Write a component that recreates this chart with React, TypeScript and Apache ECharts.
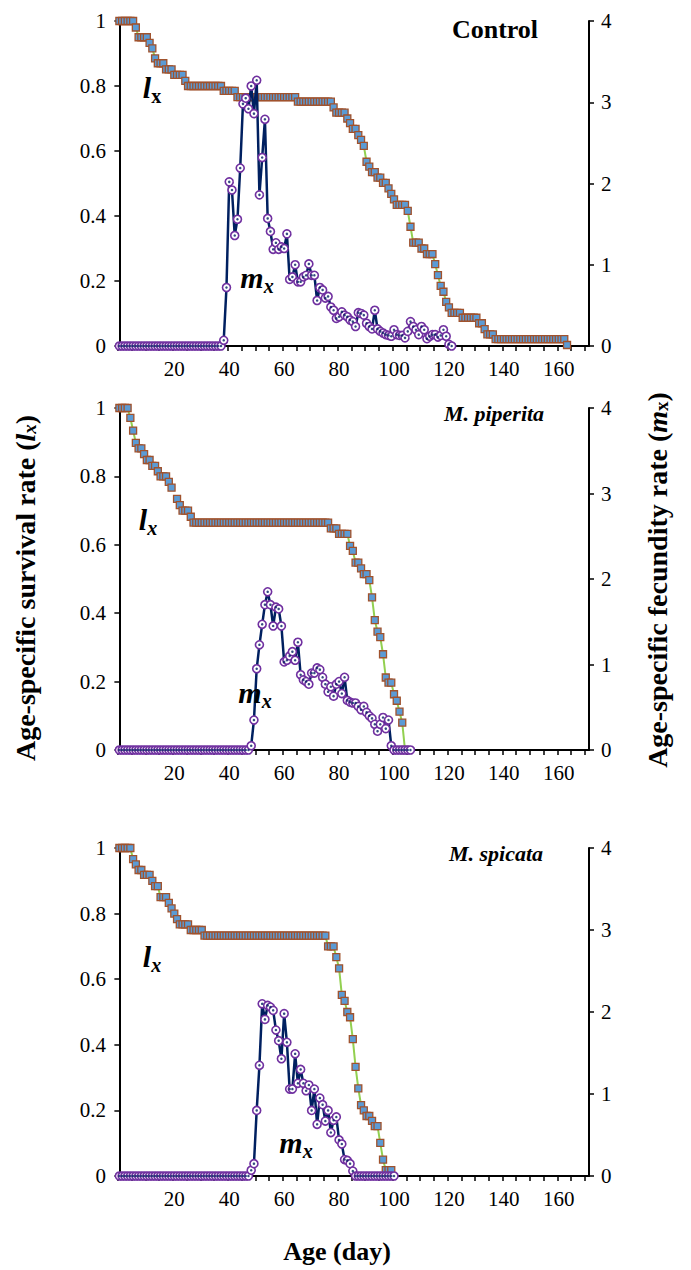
import React, { useEffect, useRef } from "react";
import * as echarts from "echarts";

// ---------- DATA (index = age in days; null = no record) ----------
const xTickLabels = [20, 40, 60, 80, 100, 120, 140, 160];

const controlLx = [
  1, 1, 1, 1, 1, 1, 0.98, 0.95, 0.95, 0.95, 0.95, 0.933, 0.916, 0.885, 0.87, 0.87, 0.87, 0.851, 0.851, 0.851,
  0.834, 0.834, 0.834, 0.834, 0.816,
  0.8, 0.8, 0.8, 0.8, 0.8, 0.8, 0.8, 0.8, 0.8, 0.8, 0.8, 0.8, 0.8,
  0.785, 0.785, 0.785, 0.785, 0.785,
  0.766, 0.766, 0.766, 0.766, 0.766, 0.766, 0.766, 0.766, 0.766, 0.766, 0.766, 0.766, 0.766, 0.766, 0.766, 0.766,
  0.766, 0.766, 0.766, 0.766, 0.766, 0.766,
  0.752, 0.752, 0.752, 0.752, 0.752, 0.752, 0.752, 0.752, 0.752, 0.752, 0.752, 0.752, 0.752,
  0.734, 0.718, 0.718, 0.718, 0.718, 0.7, 0.686, 0.668, 0.668, 0.649, 0.634, 0.616, 0.567, 0.552, 0.535, 0.535,
  0.518, 0.518, 0.502, 0.502, 0.485, 0.468, 0.451, 0.434, 0.434, 0.434, 0.434, 0.416, 0.367, 0.318, 0.318, 0.318,
  0.3, 0.3, 0.283, 0.283, 0.283, 0.252, 0.218, 0.185, 0.167, 0.136, 0.119, 0.102, 0.102, 0.102, 0.102,
  0.087, 0.087, 0.087, 0.087, 0.087, 0.087, 0.07, 0.07, 0.052, 0.036, 0.036, 0.036,
  0.021, 0.021, 0.021, 0.021, 0.021, 0.021, 0.021, 0.021, 0.021, 0.021, 0.021, 0.021, 0.021, 0.021, 0.021, 0.021,
  0.021, 0.021, 0.021, 0.021, 0.021, 0.021, 0.021, 0.021, 0.021, 0.021, 0.003,
];

const controlMx = [
  0, 0, 0, 0, 0, 0, 0, 0, 0, 0, 0, 0, 0, 0, 0, 0, 0, 0, 0, 0, 0, 0, 0, 0, 0, 0, 0, 0, 0, 0, 0, 0, 0, 0, 0, 0, 0, 0,
  0.07, 0.72, 2.02, 1.92, 1.36, 1.56, 2.19, 2.98, 3.05, 2.92, 3.2, 2.86, 3.27, 1.86, 2.32, 2.79, 1.57, 1.41, 1.19,
  1.27, 1.19, 1.22, 1.2, 1.38, 0.82, 0.85, 1.0, 0.79, 0.79, 0.85, 0.87, 1.01, 0.87, 0.87, 0.56, 0.72, 0.69, 0.59,
  0.61, 0.48, 0.44, 0.34, 0.36, 0.42, 0.38, 0.36, 0.32, 0.3, 0.24, 0.41, 0.4, 0.38, 0.28, 0.24, 0.21, 0.44, 0.21,
  0.18, 0.16, 0.14, 0.13, 0.12, 0.2, 0.14, 0.13, 0.13, 0.1, 0.18, 0.3, 0.24, 0.2, 0.14, 0.24, 0.2, 0.09, 0.12,
  0.14, 0.14, 0.11, 0.13, 0.2, 0.12, 0.02, 0,
];

const piperitaLx = [
  1, 1, 1, 1, 0.971, 0.934, 0.898, 0.882, 0.882, 0.865, 0.848, 0.848, 0.831, 0.831, 0.815, 0.8, 0.8, 0.8, 0.784,
  0.767, null, 0.734, 0.716, 0.7, 0.7, 0.7, 0.682,
  0.665, 0.665, 0.665, 0.665, 0.665, 0.665, 0.665, 0.665, 0.665, 0.665, 0.665, 0.665, 0.665, 0.665, 0.665, 0.665,
  0.665, 0.665, 0.665, 0.665, 0.665, 0.665, 0.665, 0.665, 0.665, 0.665, 0.665, 0.665, 0.665, 0.665, 0.665, 0.665,
  0.665, 0.665, 0.665, 0.665, 0.665, 0.665, 0.665, 0.665, 0.665, 0.665, 0.665, 0.665, 0.665, 0.665, 0.665, 0.665,
  0.665, 0.665,
  0.648, 0.648, 0.648, 0.632, 0.632, 0.632, 0.632, 0.597, 0.582, 0.548, 0.548, 0.531, 0.514, 0.514, 0.497, 0.446,
  0.38, 0.346, 0.33, 0.28, 0.212, 0.197, 0.197, 0.163, 0.144, 0.112, 0.08, 0,
];

const piperitaMx = [
  0, 0, 0, 0, 0, 0, 0, 0, 0, 0, 0, 0, 0, 0, 0, 0, 0, 0, 0, 0, 0, 0, 0, 0, 0, 0, 0, 0, 0, 0, 0, 0, 0, 0, 0, 0, 0, 0,
  0, 0, 0, 0, 0, 0, 0, 0, 0, 0,
  0.05, 0.35, 0.95, 1.23, 1.47, 1.7, 1.85, 1.7, 1.45, 1.67, 1.65, 1.45, 1.03, 1.05, 1.1, 1.15, 1.05, 1.26, 0.88,
  0.82, 0.8, 0.77, 0.9, 0.9, 0.96, 0.94, 0.85, 0.77, 0.68, 0.74, 0.63, 0.77, 0.8, 0.66, 0.85, 0.58, 0.56, 0.55,
  0.55, 0.51, 0.47, 0.51, 0.44, 0.4, 0.37, 0.3, 0.22, 0.3, 0.38, 0.25, 0.35, 0.05, 0, 0, 0, 0, 0, 0, 0,
];

const spicataLx = [
  1, 1, 1, 1, 1, 0.966, 0.95, 0.933, 0.933, 0.918, 0.918, 0.918, 0.9, 0.884, 0.884, 0.85, 0.85, 0.85, 0.833,
  0.816, 0.8, 0.783, 0.767, 0.767, 0.767, 0.767, 0.75, 0.75, 0.75, 0.75, 0.75,
  0.733, 0.733, 0.733, 0.733, 0.733, 0.733, 0.733, 0.733, 0.733, 0.733, 0.733, 0.733, 0.733, 0.733, 0.733, 0.733,
  0.733, 0.733, 0.733, 0.733, 0.733, 0.733, 0.733, 0.733, 0.733, 0.733, 0.733, 0.733, 0.733, 0.733, 0.733, 0.733,
  0.733, 0.733, 0.733, 0.733, 0.733, 0.733, 0.733, 0.733, 0.733, 0.733, 0.733, 0.733, 0.733,
  0.7, 0.7, 0.7, 0.667, 0.633, 0.552, 0.534, 0.5, 0.484, 0.417, 0.333, 0.267, 0.216, 0.2, 0.183, 0.183, 0.168,
  0.152, 0.152, 0.101, 0.05, 0.018, 0.018, 0.018,
];

const spicataMx = [
  0, 0, 0, 0, 0, 0, 0, 0, 0, 0, 0, 0, 0, 0, 0, 0, 0, 0, 0, 0, 0, 0, 0, 0, 0, 0, 0, 0, 0, 0, 0, 0, 0, 0, 0, 0, 0, 0,
  0, 0, 0, 0, 0, 0, 0, 0, 0, 0,
  0.07, 0.15, 0.8, 1.35, 2.1, 1.91, 2.08, 2.06, 2.02, 1.78, 1.65, 1.43, 1.98, 1.63, 1.06, 1.06, 1.49, 1.13, 1.3,
  1.13, 1.04, 1.11, 0.8, 1.06, 0.63, 0.95, 0.87, 0.67, 0.8, 0.53, 0.68, 0.72, 0.44, 0.39, 0.2, 0.19, 0.15, 0.06,
  0, 0, 0, 0, 0, 0, 0, 0, 0, 0, 0, 0, 0, 0, 0,
];

const panelNames = ["Control", "M. piperita", "M. spicata"];
const lxSets = [controlLx, piperitaLx, spicataLx];
const mxSets = [controlMx, piperitaMx, spicataMx];

// ---------- LAYOUT ----------
const W = 691;
const H = 1270;
const GRID_LEFT = 118;
const GRID_WIDTH = 471;
const panelBoxes = [
  { top: 21, height: 325 },
  { top: 408, height: 342 },
  { top: 848, height: 328 },
];
const SERIF = "Liberation Serif, Times New Roman, serif";

const tickVals: number[] = [];
for (let v = -0.5; v <= 171; v += 5) tickVals.push(v);

export default function App() {
  const ref = useRef<HTMLDivElement>(null);

  useEffect(() => {
    if (!ref.current) return;
    const chart = echarts.init(ref.current, null, { renderer: "svg" });

    const grids: any[] = [];
    const xAxes: any[] = [];
    const yAxes: any[] = [];
    const series: any[] = [];

    panelBoxes.forEach((p, i) => {
      grids.push({ left: GRID_LEFT, width: GRID_WIDTH, top: p.top, height: p.height });
      xAxes.push({
        type: "value",
        gridIndex: i,
        min: -0.5,
        max: 171,
        axisLine: { show: true, onZero: false, lineStyle: { color: "#000", width: 2 } },
        axisTick: { show: true, customValues: tickVals, length: 5, lineStyle: { color: "#000", width: 1.5 } },
        axisLabel: {
          customValues: xTickLabels,
          color: "#000",
          fontFamily: SERIF,
          fontSize: 21,
          margin: 12,
        },
        splitLine: { show: false },
      });
      yAxes.push({
        type: "value",
        gridIndex: i,
        min: 0,
        max: 1,
        interval: 0.2,
        position: "left",
        axisLine: { show: true, lineStyle: { color: "#000", width: 2 } },
        axisTick: { show: true, length: 5, lineStyle: { color: "#000", width: 1.5 } },
        axisLabel: { color: "#000", fontFamily: SERIF, fontSize: 21, margin: 12 },
        splitLine: { show: false },
      });
      yAxes.push({
        type: "value",
        gridIndex: i,
        min: 0,
        max: 4,
        interval: 1,
        position: "right",
        axisLine: { show: true, lineStyle: { color: "#000", width: 2 } },
        axisTick: { show: true, length: 5, lineStyle: { color: "#000", width: 1.5 } },
        axisLabel: { color: "#000", fontFamily: SERIF, fontSize: 21, margin: 12 },
        splitLine: { show: false },
      });

      series.push({
        type: "line",
        name: "lx " + panelNames[i],
        xAxisIndex: i,
        yAxisIndex: 2 * i,
        data: lxSets[i].map((v, d) => [d, v]),
        symbol: "rect",
        symbolSize: 7,
        showAllSymbol: true,
        connectNulls: false,
        silent: true,
        lineStyle: { color: "#92D050", width: 2 },
        itemStyle: { color: "#5B9BD5", borderColor: "#A0522D", borderWidth: 1.3 },
        z: 2,
      });
      series.push({
        type: "line",
        name: "mx " + panelNames[i],
        xAxisIndex: i,
        yAxisIndex: 2 * i + 1,
        data: mxSets[i].map((v, d) => [d, v]),
        symbol: "circle",
        symbolSize: 8,
        showAllSymbol: true,
        silent: true,
        lineStyle: { color: "#002060", width: 2.5 },
        itemStyle: { color: "#ffffff", borderColor: "#7030A0", borderWidth: 1.6 },
        z: 3,
      });
      series.push({
        type: "scatter",
        name: "mx dots " + panelNames[i],
        xAxisIndex: i,
        yAxisIndex: 2 * i + 1,
        data: mxSets[i].map((v, d) => [d, v]),
        symbol: "circle",
        symbolSize: 2.5,
        silent: true,
        itemStyle: { color: "#002060" },
        z: 4,
      });
    });

    const boldItal = (size: number) => ({ fontFamily: SERIF, fontWeight: "bold", fontStyle: "italic", fontSize: size, fill: "#000" });
    const bold = (size: number) => ({ fontFamily: SERIF, fontWeight: "bold", fontSize: size, fill: "#000" });

    const label = (x: number, y: number, main: string, upright: boolean) => ({
      type: "text",
      x,
      y,
      z: 100,
      style: {
        text: `{m|${main}}{s|x}`,
        align: "center",
        verticalAlign: "middle",
        rich: {
          m: { ...boldItal(30), verticalAlign: "bottom" },
          s: { ...(upright ? bold(20) : boldItal(20)), verticalAlign: "bottom", padding: [0, 0, -4, 0] },
        },
      },
    });

    const graphic: any[] = [
      {
        type: "text",
        x: 495,
        y: 29,
        style: { text: "Control", ...bold(26), align: "center", verticalAlign: "middle" },
      },
      {
        type: "text",
        x: 494,
        y: 413,
        style: { text: "M. piperita", ...boldItal(22), align: "center", verticalAlign: "middle" },
      },
      {
        type: "text",
        x: 496,
        y: 853,
        style: { text: "M. spicata", ...boldItal(22), align: "center", verticalAlign: "middle" },
      },
      label(152, 87, "l", true),
      label(257, 277, "m", false),
      label(148, 519, "l", false),
      label(255, 692, "m", false),
      label(152, 956, "l", false),
      label(296, 1142, "m", false),
      {
        type: "text",
        x: 25,
        y: 588,
        rotation: Math.PI / 2,
        style: {
          text: "{n|Age-specific survival rate (}{i|l}{s|x}{n|)}",
          align: "center",
          verticalAlign: "middle",
          rich: {
            n: { ...bold(28) },
            i: { ...boldItal(28) },
            s: { ...boldItal(19), verticalAlign: "bottom" },
          },
        },
      },
      {
        type: "text",
        x: 657,
        y: 580,
        rotation: Math.PI / 2,
        style: {
          text: "{n|Age-specific fecundity rate (}{i|m}{s|x}{n|)}",
          align: "center",
          verticalAlign: "middle",
          rich: {
            n: { ...bold(28) },
            i: { ...boldItal(28) },
            s: { ...bold(19), verticalAlign: "bottom" },
          },
        },
      },
      {
        type: "text",
        x: 337,
        y: 1251,
        style: { text: "Age (day)", ...bold(26), align: "center", verticalAlign: "middle" },
      },
    ];

    chart.setOption({
      animation: false,
      backgroundColor: "#ffffff",
      grid: grids,
      xAxis: xAxes,
      yAxis: yAxes,
      series,
      graphic,
    });

    return () => chart.dispose();
  }, []);

  return (
    <div
      ref={ref}
      style={{ position: "absolute", left: 0, top: 0, width: W, height: H, background: "#fff" }}
    />
  );
}
